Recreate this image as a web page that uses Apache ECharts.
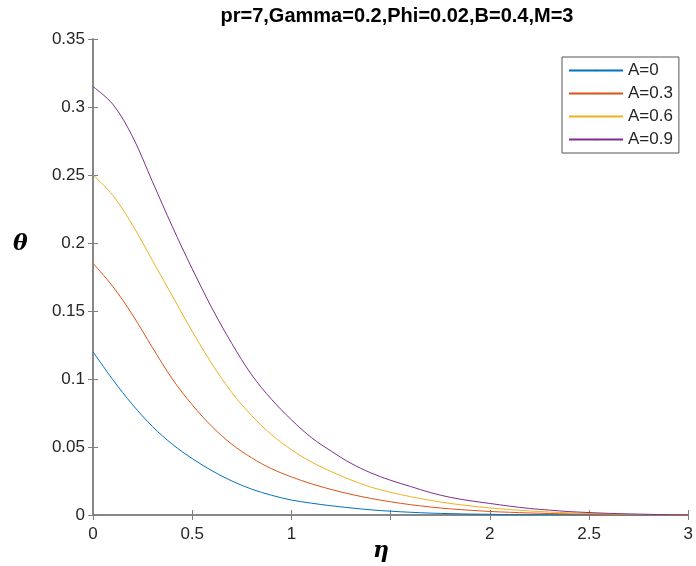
<!DOCTYPE html>
<html>
<head>
<meta charset="utf-8">
<script src="https://cdn.jsdelivr.net/npm/echarts@6/dist/echarts.min.js"></script>
<style>
  html, body { margin: 0; padding: 0; background: #fff; }
  #chart { width: 696px; height: 566px; }
</style>
</head>
<body>
<div id="chart"></div>
<script>
// eta positions where the curves were read (step 0.1)
const eta = [0, 0.1, 0.2, 0.3, 0.4, 0.5, 0.6, 0.7, 0.8, 0.9, 1.0,
  1.1, 1.2, 1.3, 1.4, 1.5, 1.6, 1.7, 1.8, 1.9, 2.0,
  2.1, 2.2, 2.3, 2.4, 2.5, 2.6, 2.7, 2.8, 2.9, 3.0];

// theta values for each A
const thetaA0 = [0.120, 0.0995, 0.081, 0.065, 0.052, 0.0415, 0.0325, 0.025, 0.019, 0.0145, 0.011,
  0.0087, 0.0068, 0.0052, 0.0038, 0.0028, 0.0020, 0.0014, 0.0010, 0.0007, 0.0005,
  0.0003, 0.0002, 0.0001, 0.0001, 0, 0, 0, 0, 0, 0];
const thetaA03 = [0.185, 0.168, 0.147, 0.123, 0.100, 0.081, 0.065, 0.052, 0.042, 0.034, 0.028,
  0.023, 0.0188, 0.0152, 0.0122, 0.0097, 0.0076, 0.0059, 0.0045, 0.0035, 0.0026,
  0.0020, 0.0015, 0.0011, 0.0008, 0.0006, 0.0004, 0.0003, 0.0002, 0.0001, 0];
const thetaA06 = [0.250, 0.235, 0.213, 0.187, 0.161, 0.135, 0.111, 0.090, 0.073, 0.059, 0.048,
  0.039, 0.032, 0.0258, 0.0205, 0.0167, 0.0135, 0.0108, 0.0085, 0.0067, 0.0052,
  0.0040, 0.0030, 0.0022, 0.0016, 0.0011, 0.0008, 0.0005, 0.0003, 0.0001, 0];
const thetaA09 = [0.315, 0.302, 0.278, 0.245, 0.212, 0.181, 0.152, 0.126, 0.103, 0.085, 0.070,
  0.057, 0.047, 0.038, 0.031, 0.0255, 0.021, 0.0165, 0.013, 0.0105, 0.0085,
  0.0065, 0.0048, 0.0036, 0.0025, 0.0018, 0.0012, 0.0008, 0.0005, 0.0002, 0];

const seriesNames = ['A=0', 'A=0.3', 'A=0.6', 'A=0.9'];
const seriesValues = [thetaA0, thetaA03, thetaA06, thetaA09];
const colors = ['#0072BD', '#D95319', '#EDB120', '#7E2F8E'];

const font = '"Liberation Sans", Arial, sans-serif';
const axisGrey = '#808080';
const labelGrey = '#262626';

const chart = echarts.init(document.getElementById('chart'));

const series = seriesNames.map((name, i) => ({
  name: name,
  type: 'line',
  xAxisIndex: 0,
  yAxisIndex: 0,
  smooth: 0.35,
  symbol: 'none',
  lineStyle: { width: 1, color: colors[i] },
  itemStyle: { color: colors[i] },
  data: eta.map((x, j) => [x, seriesValues[i][j]])
}));

const tickStyle = { show: true, inside: true, length: 5, lineStyle: { color: axisGrey } };
const lineStyle = { show: true, lineStyle: { color: axisGrey, width: 1.5 } };

const option = {
  animation: false,
  backgroundColor: '#fff',
  title: {
    text: 'pr=7,Gamma=0.2,Phi=0.02,B=0.4,M=3',
    left: 392,
    textAlign: 'center',
    top: 1,
    textStyle: { fontFamily: font, fontSize: 20, fontWeight: 'bold', color: '#000' }
  },
  legend: {
    data: seriesNames,
    orient: 'vertical',
    left: 562,
    top: 57,
    itemWidth: 54,
    itemHeight: 2,
    itemGap: 6,
    padding: [5, 6, 5, 6],
    backgroundColor: '#fff',
    borderColor: '#555',
    borderWidth: 1,
    borderRadius: 0,
    textStyle: { fontFamily: font, fontSize: 17, lineHeight: 17, color: labelGrey }
  },
  grid: { left: 93, top: 39, width: 599, height: 476, containLabel: false },
  xAxis: [
    {
      type: 'value', min: 0, max: 3, interval: 0.5,
      position: 'bottom',
      axisLine: lineStyle,
      axisTick: tickStyle,
      axisLabel: {
        margin: 11, fontFamily: font, fontSize: 17, color: labelGrey,
        formatter: v => (v === 1.5 ? '' : String(v))
      },
      splitLine: { show: false }
    },
    {
      type: 'value', min: 0, max: 3, interval: 0.5,
      position: 'top',
      axisLine: lineStyle,
      axisTick: tickStyle,
      axisLabel: { show: false },
      splitLine: { show: false }
    }
  ],
  yAxis: [
    {
      type: 'value', min: 0, max: 0.35, interval: 0.05,
      position: 'left',
      axisLine: lineStyle,
      axisTick: tickStyle,
      axisLabel: {
        margin: 8, fontFamily: font, fontSize: 17, color: labelGrey,
        formatter: v => String(parseFloat(v.toFixed(2)))
      },
      splitLine: { show: false }
    },
    {
      type: 'value', min: 0, max: 0.35, interval: 0.05,
      position: 'right',
      axisLine: lineStyle,
      axisTick: tickStyle,
      axisLabel: { show: false },
      splitLine: { show: false }
    }
  ],
  graphic: [
    {
      type: 'text', left: 13, top: 233,
      style: { text: 'θ', font: 'italic bold 22px "DejaVu Serif", serif', fill: '#000' }
    },
    {
      type: 'text', left: 373, top: 540,
      style: { text: 'η', font: 'italic bold 22px "DejaVu Serif", serif', fill: '#000' }
    }
  ],
  series: series
};

chart.setOption(option);
</script>
</body>
</html>
